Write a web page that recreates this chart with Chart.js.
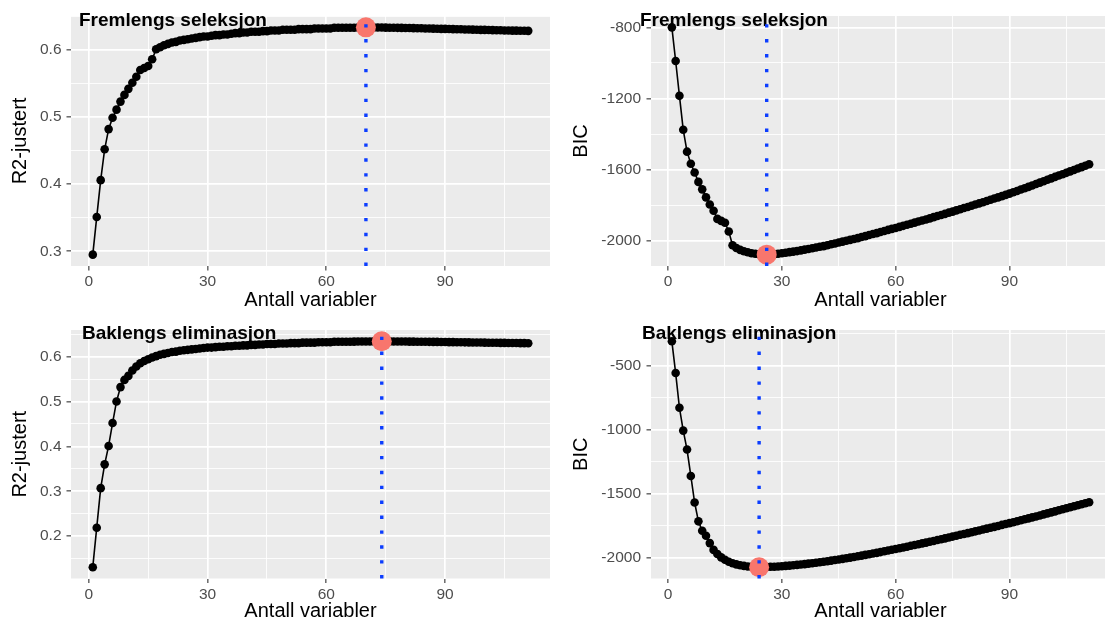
<!DOCTYPE html>
<html>
<head>
<meta charset="utf-8">
<script src="https://cdn.jsdelivr.net/npm/chart.js@4.4.0/dist/chart.umd.min.js"></script>
<style>
  html, body { margin: 0; padding: 0; background: #fff; overflow: hidden; }
  body { width: 1105px; height: 623px; position: relative; }
  canvas { position: absolute; }
</style>
</head>
<body>
<canvas id="fwdR2" width="560" height="312" style="left:0;top:0"></canvas>
<canvas id="fwdBIC" width="560" height="312" style="left:560px;top:0"></canvas>
<canvas id="bwdR2" width="560" height="312" style="left:0;top:311px"></canvas>
<canvas id="bwdBIC" width="560" height="312" style="left:560px;top:311px"></canvas>
<script>
// R2-justert, forward selection (model size 1..111)
const fwdR2 = [
  0.295, 0.351, 0.406, 0.452, 0.482, 0.499, 0.511, 0.523, 0.533, 0.542,
  0.551, 0.560, 0.570, 0.573, 0.576, 0.586, 0.601, 0.604, 0.607, 0.609,
  0.611, 0.612, 0.614, 0.615, 0.616, 0.617, 0.618, 0.619, 0.620, 0.620,
  0.621, 0.622, 0.622, 0.623, 0.623, 0.624, 0.625, 0.625, 0.626, 0.626,
  0.627, 0.627, 0.627, 0.628, 0.628, 0.629, 0.629, 0.629, 0.630, 0.630,
  0.630, 0.630, 0.631, 0.631, 0.631, 0.631, 0.632, 0.632, 0.632, 0.632,
  0.632, 0.633, 0.633, 0.633, 0.633, 0.633, 0.633, 0.6334, 0.6335, 0.6336,
  0.6335, 0.6335, 0.6334, 0.6333, 0.6332, 0.6331, 0.6330, 0.6329, 0.6328, 0.6327,
  0.6326, 0.6325, 0.6323, 0.6322, 0.6320, 0.6319, 0.6317, 0.6316, 0.6314, 0.6313,
  0.6311, 0.6310, 0.6308, 0.6307, 0.6305, 0.6304, 0.6302, 0.6301, 0.6299, 0.6298,
  0.6296, 0.6295, 0.6293, 0.6292, 0.6290, 0.6289, 0.6288, 0.6287, 0.6286, 0.6285,
  0.6284
];
// BIC, forward selection
const fwdBIC = [
  -800, -989, -1185, -1376, -1499, -1567, -1616, -1669, -1711, -1756,
  -1796, -1831, -1877, -1888, -1899, -1948, -2025, -2041, -2051, -2059,
  -2065, -2070, -2073, -2076, -2077, -2078, -2077, -2075, -2073, -2070,
  -2067, -2064, -2061, -2058, -2054, -2050, -2046, -2042, -2038, -2034,
  -2030, -2025, -2020, -2015, -2010, -2005, -2000, -1995, -1990, -1985,
  -1979, -1974, -1968, -1962, -1957, -1951, -1945, -1939, -1933, -1928,
  -1922, -1916, -1910, -1904, -1898, -1892, -1886, -1880, -1874, -1867,
  -1861, -1855, -1849, -1842, -1836, -1829, -1823, -1816, -1810, -1803,
  -1796, -1790, -1783, -1776, -1769, -1762, -1756, -1749, -1742, -1735,
  -1727, -1720, -1712, -1705, -1697, -1689, -1681, -1673, -1665, -1657,
  -1649, -1641, -1633, -1626, -1618, -1610, -1602, -1594, -1586, -1578,
  -1570
];
// R2-justert, backward elimination
const bwdR2 = [
  0.131, 0.219, 0.307, 0.360, 0.401, 0.452, 0.500, 0.532, 0.548, 0.557,
  0.569, 0.578, 0.585, 0.590, 0.594, 0.598, 0.601, 0.604, 0.606, 0.608,
  0.610, 0.611, 0.613, 0.614, 0.615, 0.616, 0.617, 0.618, 0.619, 0.620,
  0.620, 0.621, 0.622, 0.622, 0.623, 0.623, 0.624, 0.624, 0.625, 0.625,
  0.626, 0.626, 0.627, 0.627, 0.628, 0.628, 0.628, 0.629, 0.629, 0.629,
  0.630, 0.630, 0.630, 0.631, 0.631, 0.631, 0.631, 0.632, 0.632, 0.632,
  0.632, 0.633, 0.633, 0.633, 0.633, 0.633, 0.6333, 0.6334, 0.6335, 0.6336,
  0.6337, 0.6338, 0.6339, 0.6340, 0.6339, 0.6338, 0.6337, 0.6336, 0.6335, 0.6334,
  0.6333, 0.6332, 0.6331, 0.6330, 0.6329, 0.6328, 0.6327, 0.6326, 0.6325, 0.6324,
  0.6322, 0.6321, 0.6320, 0.6318, 0.6317, 0.6316, 0.6314, 0.6313, 0.6312, 0.6310,
  0.6309, 0.6308, 0.6306, 0.6305, 0.6304, 0.6303, 0.6302, 0.6301, 0.6300, 0.6299,
  0.6298
];
// BIC, backward elimination
const bwdBIC = [
  -312, -560, -831, -1009, -1157, -1363, -1570, -1717, -1791, -1830,
  -1887, -1940, -1972, -1998, -2017, -2032, -2044, -2053, -2060, -2065,
  -2069, -2072, -2074, -2075, -2074, -2073, -2072, -2071, -2069, -2067,
  -2065, -2063, -2060, -2057, -2054, -2051, -2047, -2044, -2040, -2036,
  -2032, -2028, -2024, -2019, -2015, -2010, -2005, -2000, -1995, -1990,
  -1985, -1979, -1974, -1968, -1963, -1957, -1951, -1945, -1939, -1933,
  -1927, -1921, -1915, -1908, -1902, -1896, -1889, -1883, -1876, -1870,
  -1863, -1857, -1850, -1843, -1836, -1829, -1822, -1816, -1809, -1802,
  -1795, -1788, -1781, -1774, -1767, -1760, -1753, -1745, -1738, -1731,
  -1724, -1716, -1709, -1701, -1694, -1686, -1679, -1671, -1663, -1655,
  -1647, -1639, -1631, -1623, -1615, -1607, -1599, -1592, -1584, -1576,
  -1568
];

// optimal model sizes (red point + blue dotted line)
const bestFwdR2 = 70;
const bestFwdBIC = 26;
const bestBwdR2 = 74;
const bestBwdBIC = 24;

// tick labels
const xMajor = [0, 30, 60, 90];
const xMinor = [15, 45, 75, 105];
const r2MajorFwd = [0.3, 0.4, 0.5, 0.6];
const r2MinorFwd = [0.25, 0.35, 0.45, 0.55, 0.65];
const bicMajorFwd = [-2000, -1600, -1200, -800];
const bicMinorFwd = [-2200, -1800, -1400, -1000, -600];
const r2MajorBwd = [0.2, 0.3, 0.4, 0.5, 0.6];
const r2MinorBwd = [0.15, 0.25, 0.35, 0.45, 0.55, 0.65];
const bicMajorBwd = [-2000, -1500, -1000, -500];
const bicMinorBwd = [-1750, -1250, -750, -250];

const FONT = '"Liberation Sans", Arial, Helvetica, sans-serif';
Chart.defaults.font.family = FONT;

// grey panel, dotted vline and bold label on top
const panelDecor = {
    id: 'panelDecor',
    beforeDraw(chart) {
        const a = chart.chartArea, ctx = chart.ctx;
        ctx.save();
        ctx.fillStyle = '#EBEBEB';
        ctx.fillRect(a.left, a.top, a.right - a.left, a.bottom - a.top);
        ctx.restore();
    },
    afterDraw(chart, args, opts) {
        const a = chart.chartArea, ctx = chart.ctx;
        ctx.save();
        ctx.font = 'bold 19px ' + FONT;
        ctx.fillStyle = '#000';
        ctx.textBaseline = 'alphabetic';
        ctx.fillText(opts.title, opts.titleX, opts.titleY);

        const x = chart.scales.x.getPixelForValue(opts.vline);
        ctx.strokeStyle = '#0b3dff';
        ctx.lineWidth = 3.4;
        ctx.setLineDash([3.4, 11.5]);
        ctx.beginPath();
        ctx.moveTo(x, a.bottom);
        ctx.lineTo(x, a.top);
        ctx.stroke();
        ctx.restore();
    }
};

function tickSetup(major, minor, lo, hi) {
    return scale => {
        scale.ticks = major.concat(minor)
            .filter(v => v >= lo && v <= hi)
            .sort((a, b) => a - b)
            .map(v => ({ value: v }));
    };
}

function gridOpts(major) {
    return {
        color: '#FFFFFF',
        lineWidth: c => major.includes(c.tick.value) ? 1.7 : 0.85,
        tickColor: c => major.includes(c.tick.value) ? '#333333' : 'rgba(0,0,0,0)',
        tickWidth: 1.1,
        tickLength: 4.5
    };
}

function makePanel(id, p) {
    const lo0 = Math.min(...p.values), hi0 = Math.max(...p.values);
    const pad = (hi0 - lo0) * 0.05;
    const yMin = lo0 - pad, yMax = hi0 + pad;
    const pts = p.values.map((v, i) => ({ x: i + 1, y: v }));

    new Chart(document.getElementById(id), {
        type: 'scatter',
        data: {
            datasets: [
                {
                    data: [{ x: p.best, y: p.values[p.best - 1] }],
                    pointRadius: 10,
                    pointBackgroundColor: '#F8766D',
                    pointBorderWidth: 0,
                    showLine: false,
                    order: 0
                },
                {
                    data: pts,
                    showLine: true,
                    borderColor: '#000',
                    borderWidth: 1.6,
                    pointRadius: 4.3,
                    pointBackgroundColor: '#000',
                    pointBorderWidth: 0,
                    order: 1
                }
            ]
        },
        options: {
            responsive: false,
            animation: false,
            events: [],
            layout: { padding: { top: p.padTop, right: p.padRight, left: 0, bottom: 0 } },
            plugins: {
                legend: { display: false },
                tooltip: { enabled: false },
                panelDecor: { title: p.title, titleX: p.titleX, titleY: p.titleY, vline: p.best }
            },
            scales: {
                x: {
                    type: 'linear',
                    min: -4.5,
                    max: 116.5,
                    afterBuildTicks: tickSetup(xMajor, xMinor, -4.5, 116.5),
                    afterFit: s => { s.height = p.xHeight; },
                    grid: gridOpts(xMajor),
                    border: { display: false },
                    ticks: {
                        autoSkip: false, maxRotation: 0, padding: 2,
                        color: '#4D4D4D', font: { size: 15.5 },
                        callback: v => xMajor.includes(v) ? String(v) : ''
                    },
                    title: {
                        display: true, text: 'Antall variabler', color: '#000',
                        font: { size: 20 }, padding: { top: 0, bottom: 0 }
                    }
                },
                y: {
                    type: 'linear',
                    min: yMin,
                    max: yMax,
                    afterBuildTicks: tickSetup(p.yMajor, p.yMinor, yMin, yMax),
                    afterFit: s => { s.width = p.yWidth; },
                    grid: gridOpts(p.yMajor),
                    border: { display: false },
                    ticks: {
                        autoSkip: false, padding: p.yTickPad,
                        color: '#4D4D4D', font: { size: 15.5 },
                        callback: v => p.yMajor.includes(v) ? String(v) : ''
                    },
                    title: {
                        display: true, text: p.yTitle, color: '#000',
                        font: { size: 20 }, padding: { top: p.yTitlePad, bottom: 0 }
                    }
                }
            }
        },
        plugins: [panelDecor]
    });
}

makePanel('fwdR2', {
    values: fwdR2, best: bestFwdR2, title: 'Fremlengs seleksjon', titleX: 79, titleY: 26,
    yTitle: 'R2-justert', yMajor: r2MajorFwd, yMinor: r2MinorFwd,
    padTop: 16, padRight: 8.5, xHeight: 46, yWidth: 71, yTickPad: 5, yTitlePad: 8
});
makePanel('fwdBIC', {
    values: fwdBIC, best: bestFwdBIC, title: 'Fremlengs seleksjon', titleX: 80, titleY: 26,
    yTitle: 'BIC', yMajor: bicMajorFwd, yMinor: bicMinorFwd,
    padTop: 16, padRight: 6.3, xHeight: 46, yWidth: 91, yTickPad: 5.5, yTitlePad: 9.5
});
makePanel('bwdR2', {
    values: bwdR2, best: bestBwdR2, title: 'Baklengs eliminasjon', titleX: 82, titleY: 27.5,
    yTitle: 'R2-justert', yMajor: r2MajorBwd, yMinor: r2MinorBwd,
    padTop: 19, padRight: 8.5, xHeight: 44.5, yWidth: 71, yTickPad: 5, yTitlePad: 8
});
makePanel('bwdBIC', {
    values: bwdBIC, best: bestBwdBIC, title: 'Baklengs eliminasjon', titleX: 82, titleY: 27.5,
    yTitle: 'BIC', yMajor: bicMajorBwd, yMinor: bicMinorBwd,
    padTop: 19, padRight: 6.3, xHeight: 44.5, yWidth: 91, yTickPad: 5.5, yTitlePad: 9.5
});
</script>
</body>
</html>
